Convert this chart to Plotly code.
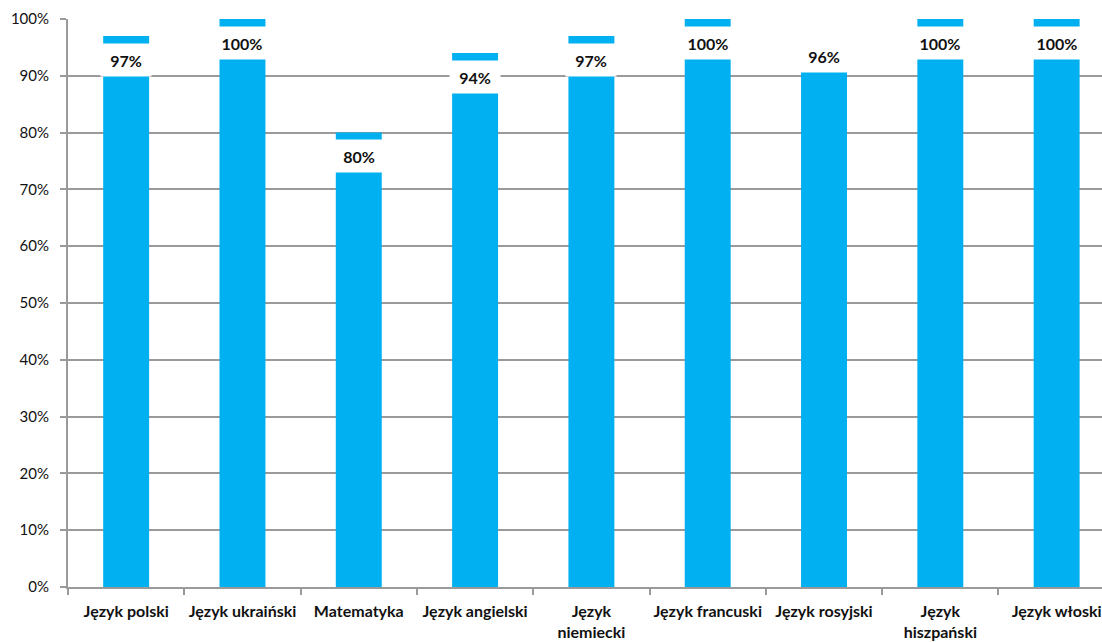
import plotly.graph_objects as go

categories = ["Język polski", "Język ukraiński", "Matematyka", "Język angielski",
              "Język<br>niemiecki", "Język francuski", "Język rosyjski",
              "Język<br>hiszpański", "Język włoski"]
values = [0.97, 1.00, 0.80, 0.94, 0.97, 1.00, 0.96, 1.00, 1.00]
labels = ["97%", "100%", "80%", "94%", "97%", "100%", "96%", "100%", "100%"]

FONT = "Lato"
BAR = "#00B0F0"
GRID = "#9a9a9a"

fig = go.Figure()
fig.add_trace(go.Bar(
    x=categories, y=values, marker=dict(color=BAR, line=dict(width=0)),
    width=0.395, hoverinfo="skip",
))

label_shift = {6: -14}
for i, (c, v, t) in enumerate(zip(categories, values, labels)):
    fig.add_annotation(
        x=c, y=v, xref="x", yref="y", text=f"<b>{t}</b>", showarrow=False,
        yshift=label_shift.get(i, -23.5), bgcolor="white", width=48, height=30,
        font=dict(family=FONT, size=16, color="#111111"),
    )

fig.update_layout(
    width=1102, height=642,
    margin=dict(l=68, r=0, t=19, b=55),
    paper_bgcolor="white", plot_bgcolor="white",
    showlegend=False,
    xaxis=dict(
        type="category", range=[-0.5, 8.39], tickson="boundaries",
        ticks="outside", ticklen=6, tickcolor=GRID, tickwidth=1.5,
        showline=True, linecolor=GRID, linewidth=2, showgrid=False,
        tickfont=dict(family=FONT, size=16, color="#111111"),
        tickangle=0, automargin=False, ticklabeloverflow="allow",
        ticklabelstandoff=9,
        fixedrange=True,
    ),
    yaxis=dict(
        range=[0, 1], tickvals=[i / 10 for i in range(11)],
        ticktext=[f"{i * 10}%" for i in range(11)],
        ticks="outside", ticklen=6, tickcolor=GRID, tickwidth=1.5,
        showline=True, linecolor=GRID, linewidth=2,
        showgrid=True, gridcolor=GRID, gridwidth=1.5, zeroline=False,
        tickfont=dict(family=FONT, size=15, color="#111111"),
        ticklabelstandoff=8, automargin=False,
        fixedrange=True,
    ),
)
fig.update_xaxes(tickprefix="<b>", ticksuffix="</b>")

fig.write_html(
    "out.html",
    config={"displayModeBar": False},
    post_script="document.body.style.margin='0';document.body.style.overflow='hidden';",
)
